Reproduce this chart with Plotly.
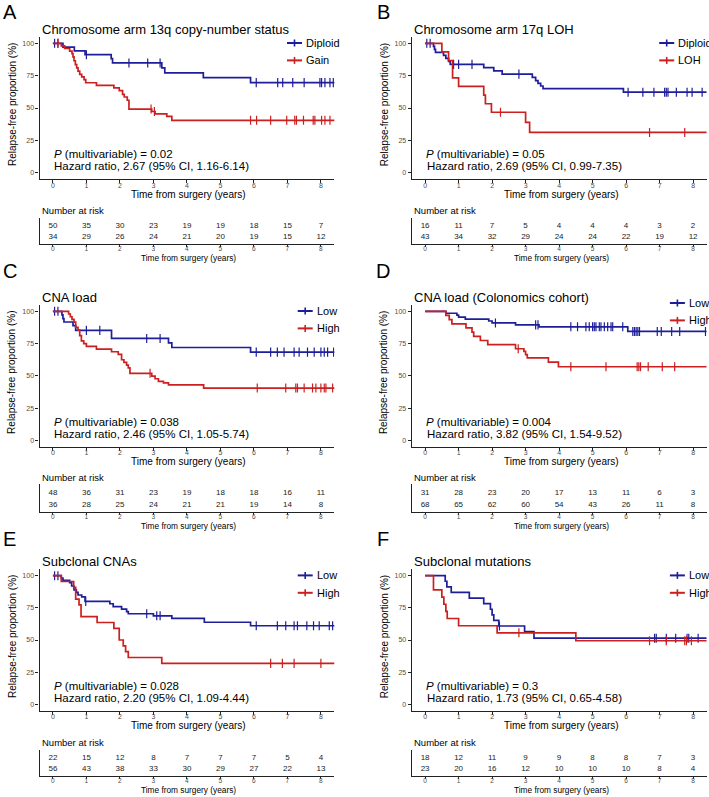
import plotly.graph_objects as go

W, H = 709, 797

# ---------------- data ----------------
years = [0, 1, 2, 3, 4, 5, 6, 7, 8]
y_ticks = [0, 25, 50, 75, 100]
followup_end = 9.0

# Panel A : Chromosome arm 13q copy-number status
A_diploid_t = [0, 0.3, 0.64, 0.96, 1.74, 1.78, 3.25, 3.34, 4.49, 5.9]
A_diploid_s = [100, 97.1, 94.1, 91.2, 88.1, 84.8, 81.0, 77.2, 73.4, 69.6]
A_diploid_c = [0.05, 0.15, 1.0, 2.27, 2.83, 3.2, 6.07, 6.71, 6.86, 7.16, 7.5, 7.97, 8.02, 8.12, 8.27, 8.37]
A_gain_t = [0, 0.25, 0.35, 0.5, 0.57, 0.6, 0.63, 0.67, 0.71, 0.75, 0.8, 0.86, 0.93, 0.98, 1.3,
            1.82, 1.98, 2.08, 2.13, 2.22, 2.27, 2.95, 3.05, 3.4, 3.55]
A_gain_s = [100, 98, 96, 94, 92, 89.5, 86.5, 83.5, 81, 78.5, 76, 74, 72, 69.5, 67.5,
            65.5, 63.5, 60.5, 58.5, 56, 49.2, 47.3, 45.4, 43.5, 40.5]
A_gain_c = [0.15, 2.93, 3.03, 5.9, 6.08, 6.5, 6.98, 7.22, 7.27, 7.48, 7.77, 7.82, 8.02, 8.12, 8.27]
A_risk_gain = [50, 35, 30, 23, 19, 19, 18, 15, 7]
A_risk_diploid = [34, 29, 26, 24, 21, 20, 19, 15, 12]

# Panel B : Chromosome arm 17q LOH
B_diploid_t = [0, 0.25, 0.28, 0.31, 0.55, 0.62, 0.7, 0.75, 1.75, 2.05, 2.3, 3.2, 3.3, 3.37, 3.45, 3.52, 5.92]
B_diploid_s = [100, 97.7, 95.3, 93.0, 90.7, 88.4, 86.0, 83.7, 81.2, 78.7, 76.2, 73.6, 71.1, 69.0, 67.0, 65.0, 62.2]
B_diploid_c = [0.05, 0.15, 0.85, 1.0, 1.4, 2.8, 6.06, 6.5, 6.83, 7.15, 7.2, 7.25, 7.5, 7.82, 7.97, 8.27]
B_loh_t = [0, 0.5, 0.7, 0.82, 1.0, 1.75, 1.8, 1.98, 3.0, 3.12]
B_loh_s = [100, 93.3, 86.7, 73.3, 66.7, 60.0, 53.3, 46.7, 38.9, 31.1]
B_loh_c = [2.25, 6.7, 7.75]
B_risk_loh = [16, 11, 7, 5, 4, 4, 4, 3, 2]
B_risk_diploid = [43, 34, 32, 29, 24, 24, 22, 19, 12]

# Panel C : CNA load
C_low_t = [0, 0.27, 0.3, 0.33, 0.6, 0.68, 1.75, 3.45, 3.55, 5.9]
C_low_s = [100, 97.2, 94.4, 91.7, 88.9, 85.2, 79.0, 75.6, 72.0, 68.4]
C_low_c = [0.05, 0.15, 1.0, 1.4, 2.8, 3.2, 6.07, 6.5, 6.7, 6.9, 7.2, 7.35, 7.6, 7.8, 8.0, 8.1, 8.2, 8.38]
C_high_t = [0, 0.47, 0.52, 0.57, 0.63, 0.68, 0.75, 0.8, 0.85, 0.92, 1.0, 1.3, 1.75, 1.95, 2.05,
            2.12, 2.2, 2.25, 2.3, 2.95, 3.05, 3.15, 3.3, 3.45, 4.5]
C_high_s = [100, 97.9, 95.8, 93.7, 91.6, 87.5, 85.4, 81.2, 77.1, 75.0, 72.9, 70.8, 68.7, 66.6, 62.5,
            60.4, 58.3, 56.2, 52.0, 49.9, 47.8, 45.7, 44.6, 43.1, 40.6]
C_high_c = [2.9, 6.1, 6.95, 7.25, 7.3, 7.5, 7.75, 7.85, 8.0, 8.1, 8.15, 8.35]
C_risk_high = [48, 36, 31, 23, 19, 18, 18, 16, 11]
C_risk_low = [36, 28, 25, 24, 21, 21, 19, 14, 8]

# Panel D : CNA load (Colonomics cohort)
D_low_t = [0, 0.62, 0.95, 1.0, 1.2, 1.9, 2.0, 2.7, 3.4, 6.05]
D_low_s = [100, 98.5, 97.0, 95.5, 94.0, 92.5, 91.0, 89.5, 88.0, 84.4]
D_low_c = [2.1, 3.3, 3.37, 4.35, 4.55, 4.8, 4.9, 5.0, 5.05, 5.1, 5.2, 5.25, 5.35, 5.45, 5.55, 5.6,
           5.9, 6.2, 6.25, 6.3, 6.35, 6.4, 6.93, 7.05, 7.36, 7.6, 8.37]
D_high_t = [0, 0.62, 0.72, 0.8, 1.22, 1.4, 1.45, 1.65, 1.87, 2.7, 2.95, 3.0, 3.05, 3.68, 3.98]
D_high_s = [100, 96.8, 93.5, 90.3, 87.1, 83.9, 80.6, 77.4, 74.2, 71.0, 69.0, 66.5, 64.0, 60.6, 57.1]
D_high_c = [2.78, 4.35, 5.4, 6.33, 6.38, 6.43, 6.66, 7.08, 7.45]
D_risk_high = [31, 28, 23, 20, 17, 13, 11, 6, 3]
D_risk_low = [68, 65, 62, 60, 54, 43, 26, 11, 8]

# Panel E : Subclonal CNAs
E_low_t = [0, 0.25, 0.3, 0.5, 0.56, 0.63, 0.7, 0.75, 0.86, 0.96, 1.7, 1.8, 2.05, 2.2, 2.25, 3.0, 3.55, 4.52, 5.9]
E_low_s = [100, 98.2, 96.4, 94.6, 92.0, 89.0, 87.0, 85.0, 83.5, 80.0, 78.2, 76.0, 74.0, 72.0, 70.4, 68.8, 66.8, 63.8, 61.1]
E_low_c = [0.05, 0.15, 0.98, 2.8, 3.1, 3.2, 6.07, 6.7, 6.95, 7.2, 7.3, 7.58, 7.78, 7.95, 8.25, 8.35]
E_high_t = [0, 0.25, 0.62, 0.68, 0.78, 0.84, 1.32, 1.82, 1.98, 2.1, 2.17, 2.25, 3.25]
E_high_s = [100, 95.5, 90.9, 81.8, 77.3, 68.2, 63.6, 59.1, 50.0, 45.5, 40.9, 36.4, 31.8]
E_high_c = [6.5, 6.85, 7.2, 8.0]
E_risk_high = [22, 15, 12, 8, 7, 7, 7, 5, 4]
E_risk_low = [56, 43, 38, 33, 30, 29, 27, 22, 13]

# Panel F : Subclonal mutations
F_low_t = [0, 0.6, 0.65, 0.78, 1.32, 1.75, 1.95, 2.0, 2.05, 2.2, 2.97, 3.25]
F_low_s = [100, 95.7, 91.3, 87.0, 82.6, 78.3, 73.9, 69.6, 65.2, 60.9, 56.5, 51.4]
F_low_c = [2.22, 6.85, 6.9, 7.2, 7.48, 7.82, 7.87, 8.15]
F_high_t = [0, 0.25, 0.5, 0.56, 0.62, 0.66, 1.0, 2.15, 4.5]
F_high_s = [100, 88.9, 83.3, 77.8, 72.2, 66.7, 61.1, 55.6, 49.4]
F_high_c = [2.8, 6.7, 7.2, 7.75, 7.8, 7.95]
F_risk_high = [18, 12, 11, 9, 9, 8, 8, 7, 3]
F_risk_low = [23, 20, 16, 12, 10, 10, 10, 8, 4]

letters = ["A", "B", "C", "D", "E", "F"]
titles = ["Chromosome arm 13q copy-number status", "Chromosome arm 17q LOH", "CNA load",
          "CNA load (Colonomics cohort)", "Subclonal CNAs", "Subclonal mutations"]
blue_labels = ["Diploid", "Diploid", "Low", "Low", "Low", "Low"]
red_labels = ["Gain", "LOH", "High", "High", "High", "High"]
p_values = ["0.02", "0.05", "0.038", "0.004", "0.028", "0.3"]
hazard_ratios = ["2.67", "2.69", "2.46", "3.82", "2.20", "1.73"]
ci_texts = ["1.16-6.14", "0.99-7.35", "1.05-5.74", "1.54-9.52", "1.09-4.44", "0.65-4.58"]

blue_t = [A_diploid_t, B_diploid_t, C_low_t, D_low_t, E_low_t, F_low_t]
blue_s = [A_diploid_s, B_diploid_s, C_low_s, D_low_s, E_low_s, F_low_s]
blue_c = [A_diploid_c, B_diploid_c, C_low_c, D_low_c, E_low_c, F_low_c]
red_t = [A_gain_t, B_loh_t, C_high_t, D_high_t, E_high_t, F_high_t]
red_s = [A_gain_s, B_loh_s, C_high_s, D_high_s, E_high_s, F_high_s]
red_c = [A_gain_c, B_loh_c, C_high_c, D_high_c, E_high_c, F_high_c]
risk_red = [A_risk_gain, B_risk_loh, C_risk_high, D_risk_high, E_risk_high, F_risk_high]
risk_blue = [A_risk_diploid, B_risk_diploid, C_risk_low, D_risk_low, E_risk_low, F_risk_low]

# ---------------- styling / layout ----------------
BLUE = "#1e1e9a"
RED = "#cc1f1f"
FONT = "Liberation Sans, Arial, sans-serif"
AXCOL = "#222222"
TICKCOL = "#4d4d4d"

col_left = [39.5, 411.7]
plot_w = 294.8
letter_x = [9.5, 383.0]
rows = [dict(y100=43.3, y0=172.7, red=225.7, blue=237.3, letter=12),
        dict(y100=311.3, y0=440.5, red=492.7, blue=505.0, letter=271),
        dict(y100=575.7, y0=704.3, red=757.7, blue=769.0, letter=539)]
legend_x_off = [247.5, 247.5, 258.2, 258.2, 258.2, 258.2]
legend_y_off = [0, 0, 0, -8, 0, 0]


def pxx(v):
    return v / W


def pxy(v):
    return 1 - v / H


def surv_at(ts, ss, t):
    val = ss[0]
    for ti, si in zip(ts, ss):
        if ti <= t:
            val = si
    return val


fig = go.Figure()
layout = dict(width=W, height=H, margin=dict(l=0, r=0, t=0, b=0),
              paper_bgcolor="white", plot_bgcolor="white", showlegend=False,
              font=dict(family=FONT, color="black"))
annotations = []
shapes = []


def axname(k):
    return "" if k == 1 else str(k)


for i in range(6):
    r, c = divmod(i, 2)
    L = col_left[c]
    row = rows[r]
    sc = (row["y0"] - row["y100"]) / 100.0
    top = row["y100"] - 5 * sc
    bot = row["y0"] + 5 * sc
    sp = row["blue"] - row["red"]
    ttop = row["red"] - 0.7 * sp
    tbot = row["blue"] + 0.6 * sp
    k1, k2 = 2 * i + 1, 2 * i + 2
    xr1, yr1 = "x" + axname(k1), "y" + axname(k1)
    xr2, yr2 = "x" + axname(k2), "y" + axname(k2)
    xdom = [pxx(L), pxx(L + plot_w)]

    common_x = dict(domain=xdom, range=[-0.4, 8.4], tickvals=years, ticks="outside",
                    ticklen=3, tickwidth=1, tickcolor=AXCOL, showline=True, linecolor=AXCOL,
                    linewidth=1.1, showgrid=False, zeroline=False, ticklabelstandoff=-4,
                    tickfont=dict(size=7, color=TICKCOL, family=FONT))
    layout["xaxis" + axname(k1)] = dict(common_x, anchor=yr1)
    layout["yaxis" + axname(k1)] = dict(domain=[pxy(bot), pxy(top)], range=[-5, 105], anchor=xr1,
                                        tickvals=y_ticks, ticks="outside", ticklen=3, tickwidth=1,
                                        tickcolor=AXCOL, showline=True, linecolor=AXCOL, linewidth=1.1,
                                        showgrid=False, zeroline=False,
                                        tickfont=dict(size=7, color=TICKCOL, family=FONT))
    layout["xaxis" + axname(k2)] = dict(common_x, anchor=yr2, ticklen=2,
                                        tickfont=dict(size=6.5, color=TICKCOL, family=FONT))
    layout["yaxis" + axname(k2)] = dict(domain=[pxy(tbot), pxy(ttop)], range=[0.4, 2.7], anchor=xr2,
                                        showticklabels=False, ticks="", showline=True, linecolor=AXCOL,
                                        linewidth=1.1, showgrid=False, zeroline=False)

    # KM curves (blue then red)
    for ts, ss, cs, col in [(blue_t[i], blue_s[i], blue_c[i], BLUE),
                            (red_t[i], red_s[i], red_c[i], RED)]:
        end = max(followup_end, max(cs) if cs else 0)
        fig.add_trace(go.Scatter(x=ts + [end], y=ss + [ss[-1]], mode="lines",
                                 line=dict(color=col, width=1.7, shape="hv"),
                                 xaxis=xr1, yaxis=yr1, hoverinfo="skip"))
        fig.add_trace(go.Scatter(x=cs, y=[surv_at(ts, ss, t) for t in cs], mode="markers",
                                 marker=dict(symbol="line-ns", size=6.5,
                                             line=dict(color=col, width=1.2)),
                                 xaxis=xr1, yaxis=yr1, hoverinfo="skip"))

    # risk table
    fig.add_trace(go.Scatter(x=years, y=[2] * len(years), mode="text",
                             text=[str(v) for v in risk_red[i]],
                             textfont=dict(size=8, color="#222222", family=FONT),
                             xaxis=xr2, yaxis=yr2, cliponaxis=False, hoverinfo="skip"))
    fig.add_trace(go.Scatter(x=years, y=[1] * len(years), mode="text",
                             text=[str(v) for v in risk_blue[i]],
                             textfont=dict(size=8, color="#222222", family=FONT),
                             xaxis=xr2, yaxis=yr2, cliponaxis=False, hoverinfo="skip"))
    fig.add_trace(go.Scatter(x=[-0.65, -0.65], y=[2, 1], mode="markers",
                             marker=dict(symbol="line-ew", size=8,
                                         line=dict(color=[RED, BLUE], width=2.6)),
                             xaxis=xr2, yaxis=yr2, cliponaxis=False, hoverinfo="skip"))

    # texts
    annotations.append(dict(x=pxx(letter_x[c]), y=pxy(row["letter"]), xref="paper", yref="paper",
                            text=letters[i], showarrow=False, xanchor="center", yanchor="middle",
                            font=dict(size=20, color="black", family=FONT)))
    annotations.append(dict(x=pxx(L), y=pxy(row["y100"] - 14.3), xref="paper", yref="paper",
                            text=titles[i], showarrow=False, xanchor="left", yanchor="middle",
                            font=dict(size=13, color="black", family=FONT)))
    annotations.append(dict(x=pxx(L - 27.5), y=pxy((top + bot) / 2 - 3), xref="paper", yref="paper",
                            text="Relapse-free proportion (%)", showarrow=False, textangle=-90,
                            xanchor="center", yanchor="middle",
                            font=dict(size=10, color="black", family=FONT)))
    annotations.append(dict(x=pxx(L + plot_w / 2 + 2), y=pxy(bot + 15), xref="paper", yref="paper",
                            text="Time from surgery (years)", showarrow=False,
                            xanchor="center", yanchor="middle",
                            font=dict(size=10, color="black", family=FONT)))
    annotations.append(dict(x=pxx(L + 12.8), y=pxy(row["y100"] + 110.5), xref="paper", yref="paper",
                            text="<i>P</i> (multivariable) = " + p_values[i], showarrow=False,
                            xanchor="left", yanchor="middle",
                            font=dict(size=11.5, color="black", family=FONT)))
    annotations.append(dict(x=pxx(L + 12.8), y=pxy(row["y100"] + 122.5), xref="paper", yref="paper",
                            text="Hazard ratio, " + hazard_ratios[i] + " (95% CI, " + ci_texts[i] + ")",
                            showarrow=False, xanchor="left", yanchor="middle",
                            font=dict(size=11.5, color="black", family=FONT)))
    annotations.append(dict(x=pxx(L), y=pxy(row["red"] - 15.3), xref="paper", yref="paper",
                            text="Number at risk", showarrow=False, xanchor="left", yanchor="middle",
                            font=dict(size=9.5, color="black", family=FONT)))
    annotations.append(dict(x=pxx(L + plot_w / 2 + 2), y=pxy(tbot + 14), xref="paper", yref="paper",
                            text="Time from surgery (years)", showarrow=False,
                            xanchor="center", yanchor="middle",
                            font=dict(size=8.3, color="black", family=FONT)))

    # legend
    lx = L + legend_x_off[i]
    for j, (lab, col) in enumerate([(blue_labels[i], BLUE), (red_labels[i], RED)]):
        ly = row["y100"] - 0.3 + legend_y_off[i] + 17.4 * j
        shapes.append(dict(type="line", xref="paper", yref="paper", x0=pxx(lx), x1=pxx(lx + 15),
                           y0=pxy(ly), y1=pxy(ly), line=dict(color=col, width=2)))
        shapes.append(dict(type="line", xref="paper", yref="paper", x0=pxx(lx + 7.5), x1=pxx(lx + 7.5),
                           y0=pxy(ly - 3.5), y1=pxy(ly + 3.5), line=dict(color=col, width=1.6)))
        annotations.append(dict(x=pxx(lx + 17), y=pxy(ly), xref="paper", yref="paper", text=lab,
                                showarrow=False, xanchor="left", yanchor="middle",
                                font=dict(size=11, color="black", family=FONT)))

layout["annotations"] = annotations
layout["shapes"] = shapes
fig.update_layout(**layout)
fig.write_html("out.html", config={"displayModeBar": False},
               post_script="document.body.style.margin='0';")
